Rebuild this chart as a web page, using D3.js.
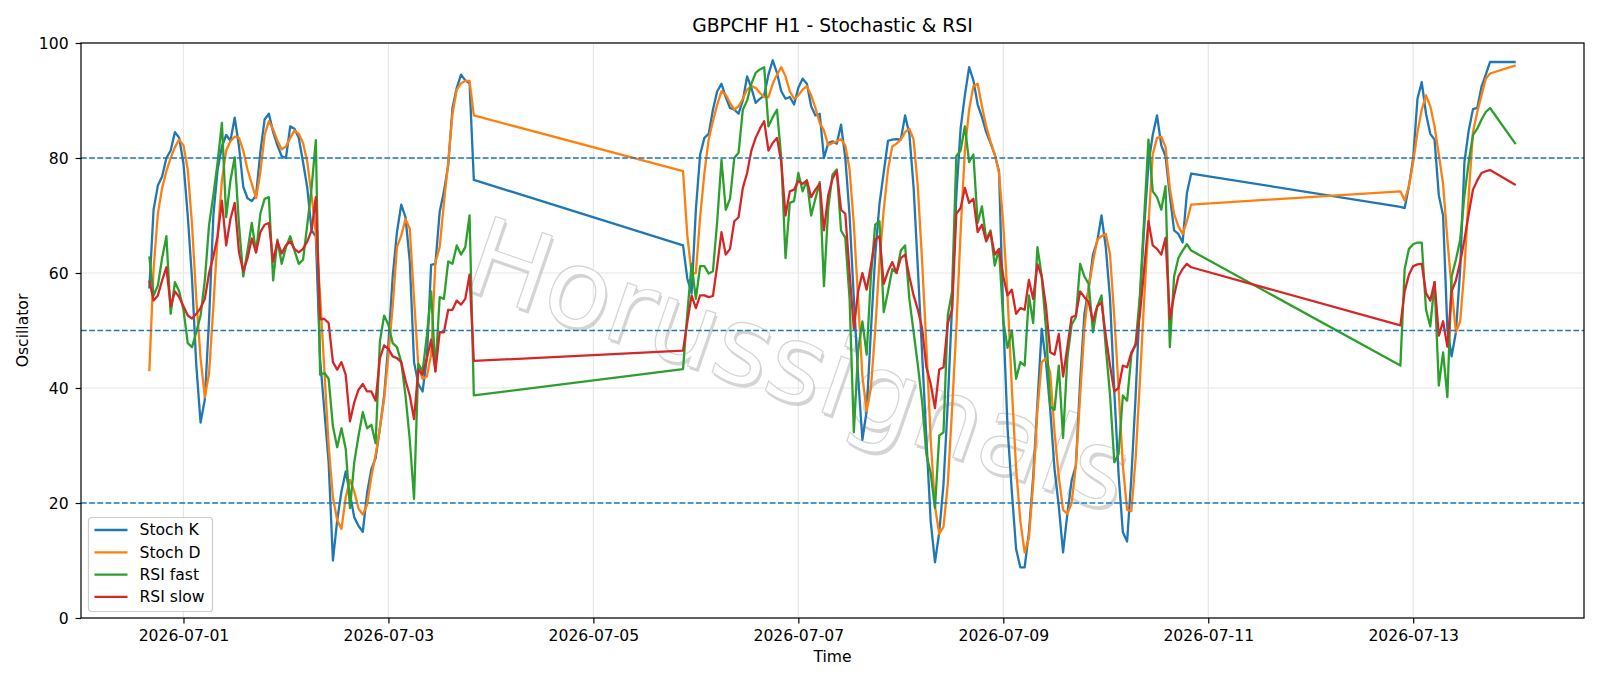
<!doctype html>
<html lang="en">
<head>
<meta charset="utf-8">
<script src="https://cdn.jsdelivr.net/npm/d3@7/dist/d3.min.js"></script>
<style>
    body { margin: 0; background: #fff; }
    svg text { font-family: "DejaVu Sans", sans-serif; }
</style>
</head>
<body>
<svg id="chart" width="1600" height="686"></svg>
<script>
    // hourly bars in blocks (weekend gaps), start of each block and its length
    var segStart = ["2026-06-30T16:00", "2026-07-05T21:00", "2026-07-12T21:00", "2026-07-14T00:00"];
    var segLength = [77, 120, 22, 1];

    var stochK = [
        57.3, 71, 75.2, 76.8, 80, 81.3, 84.5, 83.5, 79, 70,
        59, 44, 34, 38, 52, 70, 78, 82, 84, 83,
        87, 82, 75, 73, 72.5, 73.5, 81, 86.7, 87.7, 84.5,
        82.2, 80.3, 80, 85.5, 85.1, 83.5, 79.3, 74.8, 67.4, 66.4,
        45, 36, 27, 10, 17, 22, 25.5, 21.5, 17.5, 16,
        15, 21.7, 25.9, 27.8, 33, 38.7, 47.8, 59.4, 67.1, 71.9,
        69.7, 62, 44.5, 40.7, 39.4, 45.2, 61.4, 61.6, 70.6, 74.2,
        78.7, 88.7, 92.2, 94.5, 93.5, 93, 76.2,
        64.8, 59, 56.5, 71, 80.6, 83.5, 84.2, 88.4, 91.6, 92.9,
        90.6, 88.7, 88.4, 87.7, 90, 94.2, 92.2, 89.6, 90.3, 90.9,
        94.5, 97, 94.8, 91.6, 90.3, 90.6, 89.3, 92.2, 93.8, 92.9,
        89, 87.4, 87.7, 80, 82.6, 82.9, 82.5, 85.8, 80, 70,
        55.5, 42, 31, 36, 50, 63, 72, 77.5, 83, 83.2,
        83.3, 83.2, 87.4, 84.2, 74.8, 60.7, 45.8, 31, 16.8, 9.7,
        14.9, 23.3, 37.4, 54.2, 73.5, 85.1, 90.9, 95.8, 93.5, 89.3,
        87.1, 84.5, 82.6, 80.6, 77.7, 52, 33, 22, 12, 8.8,
        8.8, 14.9, 24.6, 37.4, 50.3, 44.5, 36.2, 25.9, 19.4, 11.4,
        18.1, 23.9, 26.5, 41.3, 52.9, 57.4, 63.2, 65.5, 70, 64.5,
        55.5, 39.4, 25, 14.9, 13.3, 24.6, 38.7, 55.5, 68, 79,
        84, 87.4, 82.2, 80.3, 73.5, 67.4, 66.8, 65.3, 73.9, 77.3,
        71.5, 71.3, 75.1, 80, 90.3, 93.2, 87.7, 84.2, 83.2, 73.5,
        70, 50.3, 45.5, 49.7, 60.6, 79.3, 84.8, 88.5, 88.7, 92.4,
        94.5, 96.7,
        96.7
    ];
    var stochD = [
        42.9, 60.7, 70.3, 74.8, 77.7, 80, 81.9, 83.2, 82.2, 78,
        68.4, 55.5, 45.2, 38.4, 42.6, 54.2, 66.4, 76.1, 81.3, 82.9,
        83.7, 83.5, 81.3, 78, 75.5, 73, 77.5, 84, 86.4, 85,
        83, 81.5, 82, 83.5, 84.8, 84.2, 82.6, 79.3, 73.5, 67,
        56, 43, 30, 21, 17, 15.5, 21, 24, 22, 19,
        18, 19.7, 24.6, 28.4, 33, 38.1, 45.8, 54.2, 64.5, 66.5,
        69.4, 67.7, 55.5, 43.9, 41.6, 42, 45.8, 61.9, 64.5, 72.2,
        79.3, 87.7, 91.9, 93, 93.4, 93.4, 87.4,
        77.7, 66.5, 59.9, 60, 69.7, 77.4, 83.2, 86.4, 89.3, 91.6,
        91, 89.6, 88.4, 89, 90.3, 91.9, 92.5, 92.2, 91.3, 90.6,
        90.6, 92.9, 94.5, 95.8, 94.2, 91.6, 90.3, 90.9, 91.9, 92.5,
        90.9, 88.7, 86.1, 84.8, 82.2, 82.6, 82.9, 83.3, 82.2, 78,
        68.4, 55.5, 42, 36, 40, 50, 62, 71, 78, 82,
        82.5, 83.2, 84.5, 85.1, 83.2, 74.8, 61.9, 47.1, 31, 19.4,
        14.6, 15.9, 23.3, 36.2, 50.3, 67.1, 81.3, 88.4, 92.5, 92.9,
        89, 85.5, 82.9, 80.6, 77.4, 68.4, 56, 40, 26, 16.8,
        11.4, 13.9, 23.3, 36.2, 44.5, 45.2, 42.6, 32.3, 24.6, 18.8,
        18.1, 20, 26.5, 38.7, 50.3, 57.4, 61.9, 65.8, 66.4, 66.8,
        63.2, 52.3, 40, 26.5, 18.8, 18.6, 27.8, 41.3, 55.5, 68.4,
        80.6, 83.5, 83.7, 81.9, 74.8, 70.3, 68.1, 66.8, 69, 71.9,
        74.2, 72.6, 75.1, 79.3, 84.5, 88.4, 90.9, 89, 85.5, 80.6,
        75.5, 65.8, 57.4, 49.7, 51.6, 60.7, 73.5, 84.5, 88, 90.9,
        93.8, 94.7,
        96.1
    ];
    var rsiFast = [
        62.9, 56.1, 57.8, 62.6, 66.4, 52.9, 58.4, 56.8, 53.6, 47.8,
        47.1, 49.7, 52.6, 58.7, 68.4, 73.5, 79.3, 86.1, 69.7, 76.1,
        80.1, 68.4, 59.4, 63.9, 68.7, 63.6, 70.3, 72.9, 73.2, 58.7,
        65.8, 61.6, 64.5, 66.4, 63.9, 61.6, 62.3, 68.4, 74.8, 83.1,
        42.3, 42.6, 41.6, 33.3, 29.7, 33, 29.4, 19.1, 27.1, 31.7,
        35.8, 33, 33.6, 30.4, 48.1, 52.6, 51, 47.8, 47.1, 44.5,
        38.7, 31, 20.7, 44.2, 42.9, 49.1, 56.8, 42.9, 55.8, 55.5,
        62, 61.6, 64.8, 63.2, 64.5, 70, 38.7,
        43.3, 53, 61.6, 55.5, 61.2, 61.2, 59.9, 60.3, 69, 79.7,
        71, 72.9, 80, 80.9, 88.4, 90, 92.9, 94.8, 95.4, 95.8,
        85.5, 87.1, 88.4, 80, 62.6, 72.2, 72.5, 77.4, 74.2, 76.1,
        70, 72.9, 75.8, 57.7, 71.3, 77.1, 78, 67.4, 66.1, 55.5,
        32.3, 46.5, 51.6, 45.8, 59.4, 68.4, 69, 53.2, 56.8, 60.7,
        60, 63.9, 64.8, 55.5, 49.7, 43.9, 37.5, 28.4, 25.2, 19.1,
        31.7, 32.3, 52.6, 56.8, 80.3, 81.3, 85.5, 79.3, 80.6, 68.7,
        71.6, 65.8, 67.4, 61.3, 64.2, 51.6, 47, 50, 41.6, 44.5,
        43.9, 56.1, 51.3, 64.5, 59.4, 50.3, 36.8, 36.2, 43.9, 31.3,
        45.2, 51, 52.3, 61.6, 59.4, 58.1, 49.7, 54.2, 56.1, 47.1,
        38.7, 27.1, 28.5, 38.7, 37.8, 45.8, 47.8, 56.1, 69.7, 83.2,
        74.2, 73.2, 71, 75.1, 47.1, 59.4, 62.6, 63.9, 65, 63.9,
        43.9, 60.7, 64.2, 65, 65.3, 65.3, 53.6, 50.7, 58.4, 40.4,
        46.2, 38.4, 59.4, 62.3, 65.8, 73.5, 79.3, 84, 85.1, 86.7,
        88, 88.7,
        82.4
    ];
    var rsiSlow = [
        58.7, 55.2, 56.1, 58.7, 61, 54.2, 56.8, 55.8, 54.2, 52.6,
        52.1, 52.9, 53.9, 55.5, 60, 62.9, 66.4, 72.6, 64.8, 69.4,
        72.2, 63.6, 60.3, 62.6, 66, 63.6, 67.1, 68.4, 68.7, 62,
        65.5, 63.4, 64.8, 65.5, 64.2, 63.6, 64.2, 65.5, 67.4, 73.2,
        52, 52, 51.3, 44.5, 43.2, 44.5, 42.3, 34.2, 37.5, 39.7,
        40.7, 39.4, 39.4, 37.8, 45.2, 47.4, 46.8, 45.5, 45.2, 44.5,
        41.3, 38.7, 34.6, 43.2, 42.3, 45.2, 48.4, 42.9, 49.7, 49.7,
        53.6, 53.6, 55.2, 54.5, 55.5, 59.7, 44.7,
        46.5, 51.5, 56.1, 53.9, 56.1, 56.1, 55.8, 56, 61.3, 67.1,
        63.2, 64.2, 69, 69.7, 74.8, 77.4, 81.3, 83.5, 85.1, 86.4,
        81.3, 82.6, 83.5, 79.3, 70, 74.2, 74.5, 76, 75.5, 76.1,
        73.2, 74.5, 75.5, 67.4, 73.5, 76.4, 77.7, 71, 70.3, 60,
        50.3, 56.8, 60, 57.1, 61.3, 65.8, 66.4, 58.1, 60.3, 61.9,
        60, 62.6, 63.2, 59.4, 56.1, 53.6, 50.3, 43.6, 40.7, 36.5,
        43.2, 43.6, 51.3, 53.6, 70.3, 71.3, 74.8, 72.2, 72.9, 67.1,
        68.4, 65.5, 67.1, 63.2, 64.2, 59.4, 56.1, 57.1, 52.9, 53.9,
        53.6, 58.8, 55.5, 61.5, 59.4, 54.2, 46.2, 45.8, 49.4, 42,
        47.1, 52.3, 52.6, 56.8, 55.8, 54.9, 51.6, 54.2, 54.9, 49.1,
        43.9, 39.4, 40, 43.9, 43.6, 46.2, 47.4, 52.9, 60.7, 69,
        64.8, 64.2, 63.2, 66.1, 52, 56.1, 59.4, 60.7, 61.6, 61,
        50.9, 56.8, 59.7, 61.2, 61.5, 61.6, 56.5, 55.2, 58.4, 49.1,
        51.6, 47.2, 56.8, 58.7, 61.9, 65.8, 70.3, 74.5, 76.1, 77.4,
        77.7, 77.9,
        75.3
    ];

    var seriesNames = ["Stoch K", "Stoch D", "RSI fast", "RSI slow"];
    var seriesColors = ["#1f77b4", "#ff7f0e", "#2ca02c", "#d62728"];
    var levels = [20, 50, 80];
    var yTicks = [0, 20, 40, 60, 80, 100];
    var xTicks = ["2026-07-01", "2026-07-03", "2026-07-05", "2026-07-07", "2026-07-09", "2026-07-11", "2026-07-13"];

    // build the time axis
    var parseHour = d3.utcParse("%Y-%m-%dT%H:%M");
    var parseDay = d3.utcParse("%Y-%m-%d");
    var times = [];
    segStart.forEach(function(s, i) {
        var t0 = parseHour(s);
        for (var j = 0; j < segLength[i]; j++) times.push(d3.utcHour.offset(t0, j));
    });

    var margin = {top: 43, right: 16, bottom: 68, left: 81},
        width = 1600 - margin.left - margin.right,
        height = 686 - margin.top - margin.bottom;

    var svg = d3.select("#chart");
    var g = svg.append("g").attr("transform", "translate(" + margin.left + "," + margin.top + ")");

    // matplotlib style 5% padding
    var tMin = +times[0], tMax = +times[times.length - 1], pad = (tMax - tMin) * 0.05;
    var x = d3.scaleUtc().domain([new Date(tMin - pad), new Date(tMax + pad)]).range([0, width]);
    var y = d3.scaleLinear().domain([0, 100]).range([height, 0]);

    var gridColor = "#e7e7e7";
    // grid
    g.append("g").selectAll("line").data(xTicks).enter().append("line")
        .attr("x1", function(d) { return x(parseDay(d)); })
        .attr("x2", function(d) { return x(parseDay(d)); })
        .attr("y1", 0).attr("y2", height)
        .attr("stroke", gridColor).attr("stroke-width", 1.2);
    g.append("g").selectAll("line").data(yTicks).enter().append("line")
        .attr("x1", 0).attr("x2", width)
        .attr("y1", function(d) { return y(d); })
        .attr("y2", function(d) { return y(d); })
        .attr("stroke", gridColor).attr("stroke-width", 1.2);

    // watermark (soft shadow + light outlined text)
    var wm = g.append("g")
        .attr("transform", "translate(" + (797 - margin.left) + "," + (372 - margin.top) + ") rotate(19)");
    wm.append("text")
        .attr("x", 2.5).attr("y", 2.5)
        .attr("text-anchor", "middle").attr("dominant-baseline", "middle")
        .style("font-size", "108px")
        .attr("fill", "#a0a0a0").attr("fill-opacity", 0.45)
        .text("Horussignals");
    wm.append("text")
        .attr("text-anchor", "middle").attr("dominant-baseline", "middle")
        .style("font-size", "108px")
        .attr("fill", "#ffffff")
        .attr("stroke", "#d4d4d4").attr("stroke-width", 1.2)
        .text("Horussignals");

    // series lines
    var allSeries = [stochK, stochD, rsiFast, rsiSlow];
    var line = d3.line()
        .x(function(d) { return x(d.t); })
        .y(function(d) { return y(d.v); });

    allSeries.forEach(function(vals, i) {
        var data = vals.map(function(v, k) { return {t: times[k], v: v}; });
        g.append("path")
            .attr("fill", "none")
            .attr("stroke", seriesColors[i])
            .attr("stroke-width", 2.3)
            .attr("stroke-linejoin", "round")
            .attr("d", line(data));
    });

    // level lines
    g.append("g").selectAll("line").data(levels).enter().append("line")
        .attr("x1", 0).attr("x2", width)
        .attr("y1", function(d) { return y(d); })
        .attr("y2", function(d) { return y(d); })
        .attr("stroke", "#1f77b4").attr("stroke-width", 1.5)
        .attr("stroke-dasharray", "5.7,2.5");

    // axes
    var xAxis = d3.axisBottom(x).tickValues(xTicks.map(parseDay))
        .tickFormat(d3.utcFormat("%Y-%m-%d")).tickSize(5.4).tickPadding(7);
    var yAxis = d3.axisLeft(y).tickValues(yTicks).tickSize(5.4).tickPadding(7);

    var gx = g.append("g").attr("transform", "translate(0," + height + ")").call(xAxis);
    var gy = g.append("g").call(yAxis);
    [gx, gy].forEach(function(a) {
        a.select(".domain").remove();
        a.selectAll("line").attr("stroke", "#000").attr("stroke-width", 1.2);
        a.selectAll("text").style("font-size", "15.6px").attr("fill", "#000")
            .style("font-family", "'DejaVu Sans', sans-serif");
    });

    // frame
    g.append("rect").attr("width", width).attr("height", height)
        .attr("fill", "none").attr("stroke", "#000").attr("stroke-width", 1.2);

    // legend
    var lg = g.append("g").attr("transform", "translate(" + (88.5 - margin.left) + "," + (517.5 - margin.top) + ")");
    lg.append("rect").attr("width", 124).attr("height", 94).attr("rx", 3)
        .attr("fill", "#fff").attr("fill-opacity", 0.8)
        .attr("stroke", "#cccccc").attr("stroke-width", 1.2);
    seriesNames.forEach(function(name, i) {
        var yy = 12.5 + i * 22.3;
        lg.append("line").attr("x1", 6).attr("x2", 39).attr("y1", yy).attr("y2", yy)
            .attr("stroke", seriesColors[i]).attr("stroke-width", 2.3);
        lg.append("text").attr("x", 51).attr("y", yy).attr("dy", "0.35em")
            .style("font-size", "15.6px").attr("fill", "#000").text(name);
    });

    // titles
    svg.append("text").attr("x", margin.left + width / 2).attr("y", 26)
        .attr("text-anchor", "middle").attr("dominant-baseline", "middle")
        .style("font-size", "18.7px").attr("fill", "#000").text("GBPCHF H1 - Stochastic & RSI");
    svg.append("text").attr("x", margin.left + width / 2).attr("y", 657)
        .attr("text-anchor", "middle").attr("dominant-baseline", "middle")
        .style("font-size", "15.6px").attr("fill", "#000").text("Time");
    svg.append("text").attr("transform", "translate(23," + (margin.top + height / 2) + ") rotate(-90)")
        .attr("text-anchor", "middle").attr("dominant-baseline", "middle")
        .style("font-size", "15.6px").attr("fill", "#000").text("Oscillator");
</script>
</body>
</html>
